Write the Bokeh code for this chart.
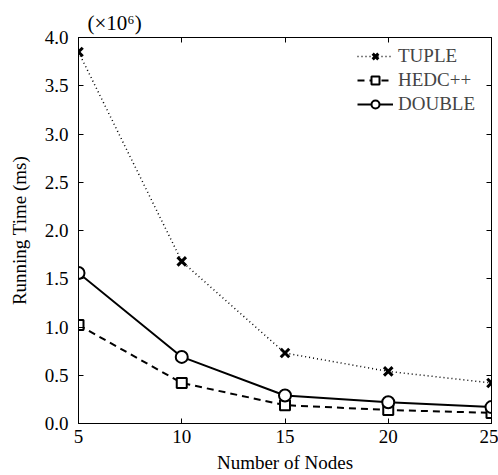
from bokeh.plotting import figure
from bokeh.models import LinearAxis, Range1d, FixedTicker, CustomJSTickFormatter, Legend
from bokeh.embed import file_html
from bokeh.resources import INLINE

nodes = [5, 10, 15, 20, 25]
tuple_vals = [3.85, 1.68, 0.73, 0.54, 0.42]
hedc_vals = [1.02, 0.42, 0.19, 0.14, 0.11]
double_vals = [1.56, 0.69, 0.29, 0.22, 0.17]
x_ticks = [5, 10, 15, 20, 25]
y_ticks = [0.0, 0.5, 1.0, 1.5, 2.0, 2.5, 3.0, 3.5, 4.0]

FONT = "Liberation Serif"

p = figure(width=498, height=475, output_backend="svg", toolbar_location=None,
           x_range=Range1d(5, 25), y_range=Range1d(0, 4.0),
           min_border_left=78, min_border_top=37, min_border_bottom=50, min_border_right=7,
           x_axis_label="Number of Nodes", y_axis_label="Running Time (ms)",
           title="(×10⁶)")
p.background_fill_color = "white"
p.border_fill_color = "white"
p.outline_line_color = "black"
p.outline_line_width = 1
p.xgrid.visible = False
p.ygrid.visible = False

p.title.align = "left"
p.title.offset = 9
p.title.text_font = FONT
p.title.text_font_size = "21px"
p.title.text_font_style = "normal"
p.title.text_color = "black"
p.title.standoff = 6

for ax in (p.xaxis[0], p.yaxis[0]):
    ax.major_tick_in = 5
    ax.major_tick_out = 0
    ax.minor_tick_line_color = None
    ax.major_label_text_font = FONT
    ax.major_label_text_font_size = "19px"
    ax.axis_label_text_font = FONT
    ax.axis_label_text_font_size = "19px"
    ax.axis_label_text_font_style = "normal"
    ax.axis_label_text_color = "black"
    ax.major_label_text_color = "black"
    ax.axis_line_color = "black"
    ax.major_tick_line_color = "black"
p.xaxis[0].ticker = FixedTicker(ticks=x_ticks)
p.yaxis[0].ticker = FixedTicker(ticks=y_ticks)
p.yaxis[0].major_label_overrides = {t: f"{t:.1f}" for t in y_ticks}
p.xaxis[0].major_label_standoff = 6
p.yaxis[0].major_label_standoff = 10
p.xaxis[0].axis_label_standoff = 6
p.yaxis[0].axis_label_standoff = 12

blank = CustomJSTickFormatter(code="return '';")
top = LinearAxis(ticker=FixedTicker(ticks=x_ticks), major_tick_in=5, major_tick_out=0,
                 minor_tick_line_color=None, formatter=blank, major_label_standoff=0)
right = LinearAxis(ticker=FixedTicker(ticks=y_ticks), major_tick_in=5, major_tick_out=0,
                   minor_tick_line_color=None, formatter=blank, major_label_standoff=0)
p.add_layout(top, "above")
p.add_layout(right, "right")

r1 = p.line(nodes, tuple_vals, line_color="black", line_width=1.5, line_dash="1 3")
r2 = p.scatter(nodes, tuple_vals, marker="x", size=12, line_color="black", line_width=3)

r3 = p.line(nodes, hedc_vals, line_color="black", line_width=2, line_dash="7 5")
r4 = p.scatter(nodes, hedc_vals, marker="square", size=10, line_color="black", fill_color="white",
               line_width=2)

r5 = p.line(nodes, double_vals, line_color="black", line_width=2)
r6 = p.scatter(nodes, double_vals, marker="circle", size=12, line_color="black", fill_color="white",
               line_width=2)

legend = Legend(items=[("TUPLE", [r1, r2]), ("HEDC++", [r3, r4]), ("DOUBLE", [r5, r6])],
                location=(279, 308))
legend.border_line_color = None
legend.background_fill_alpha = 0
legend.label_text_font = FONT
legend.label_text_font_size = "19px"
legend.glyph_width = 36
legend.glyph_height = 20
legend.spacing = 2
legend.margin = 0
legend.padding = 0
legend.label_standoff = 5
p.add_layout(legend, "center")

open("out.html", "w").write(file_html(p, INLINE))
